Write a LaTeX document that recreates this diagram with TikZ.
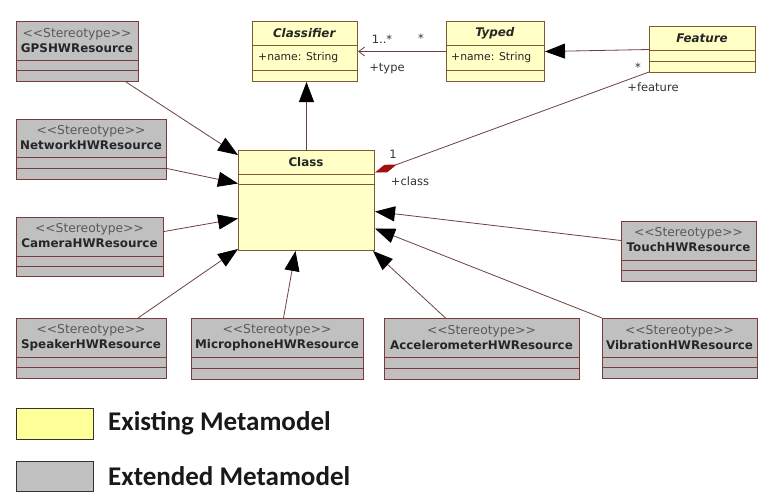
\documentclass[tikz,border=0pt]{standalone}
\usepackage{fontspec}
\setmainfont{DejaVu Sans}
\newfontfamily\legfont{Carlito}
\usetikzlibrary{arrows.meta,calc}
\definecolor{ylw}{HTML}{FFFFC6}
\definecolor{ylwborder}{HTML}{7D5A32}
\definecolor{gry}{HTML}{C0C0C0}
\definecolor{gryborder}{HTML}{7B3B3B}
\definecolor{conn}{HTML}{6E4040}
\definecolor{diam}{HTML}{A01010}
\definecolor{legyellow}{HTML}{FFFF99}
\newcommand\stereo{{\fontsize{12.3}{15}\selectfont\color{black!65}<\kern0pt<Stereotype>\kern0pt>}}
\tikzset{
  box/.style={draw, inner sep=0pt, anchor=north west, line width=1pt},
  ybox/.style={box, fill=ylw, draw=ylwborder},
  gbox/.style={box, fill=gry, draw=gryborder},
  yboxline/.style={draw=ylwborder, line width=1pt},
  gboxline/.style={draw=gryborder, line width=1pt},
  txt/.style={inner sep=0pt, align=center, font=\fontsize{11.9}{15}\selectfont, text=black!85},
  attr/.style={inner sep=0pt, anchor=west, font=\fontsize{10.8}{13}\selectfont, text=black!85},
  lbl/.style={inner sep=0pt, font=\fontsize{11.5}{12}\selectfont, text=black!80},
  gen/.style={draw=conn, line width=0.8pt, -{Triangle[length=20pt,width=15pt,color=black]}},
  assoc/.style={draw=conn, line width=0.8pt, -{Straight Barb[length=6pt,width=9pt]}},
  comp/.style={draw=conn, line width=0.8pt, {Diamond[length=23pt,width=8pt,color=diam]}-},
  legtxt/.style={inner sep=0pt, anchor=west, font=\legfont\bfseries\fontsize{27}{30}\selectfont, text=black!90}
}
\newcommand\umlbox[8]{%
  \node[#2, minimum width={#5pt-#3pt}, minimum height={#6pt-#4pt}] (#1) at (#3,#4) {};
  \draw[#2line] (#3,#7) -- (#5,#7) (#3,#8) -- (#5,#8);
}
\begin{document}
\begin{tikzpicture}[x=1pt,y=-1pt]
\path[use as bounding box, fill=white] (0,0) rectangle (767,499);

% existing metamodel
\umlbox{classifier}{ybox}{252}{21}{357}{81}{45}{70}
\node[txt] (classifierT) at (304.5,33) {\textbf{\textit{Classifier}}};
\node[attr] (classifierA) at (258,57.5) {+name: String};
\umlbox{typed}{ybox}{446}{21}{544}{81}{45}{70}
\node[txt] (typedT) at (495,33) {\textbf{\textit{Typed}}};
\node[attr] (typedA) at (451,57.5) {+name: String};
\umlbox{feature}{ybox}{649}{26}{755}{72}{50}{61}
\node[txt] (featureT) at (702,38) {\textbf{\textit{Feature}}};
\umlbox{class}{ybox}{238}{150}{374}{250}{174}{184}
\node[txt] (classT) at (306,162) {\textbf{Class}};

% extended metamodel
\umlbox{gps}{gbox}{16}{21}{138}{81}{60}{70}
\node[txt] (gpsT) at (77,40.5) {\stereo\\\textbf{GPSHWResource}};
\umlbox{net}{gbox}{16}{119}{166}{179}{157}{168}
\node[txt] (netT) at (91,138) {\stereo\\\textbf{NetworkHWResource}};
\umlbox{cam}{gbox}{16}{217}{163}{276}{256}{266}
\node[txt] (camT) at (89.5,236) {\stereo\\\textbf{CameraHWResource}};
\umlbox{spk}{gbox}{16}{318}{166}{378}{357}{367}
\node[txt] (spkT) at (91,337.5) {\stereo\\\textbf{SpeakerHWResource}};
\umlbox{mic}{gbox}{191}{318}{363}{379}{357}{368}
\node[txt] (micT) at (277,337.5) {\stereo\\\textbf{MicrophoneHWResource}};
\umlbox{acc}{gbox}{384}{318}{579}{379}{357}{368}
\node[txt] (accT) at (481.5,337.5) {\stereo\\\textbf{AccelerometerHWResource}};
\umlbox{vib}{gbox}{602}{318}{757}{378}{357}{367}
\node[txt] (vibT) at (679.5,337.5) {\stereo\\\textbf{VibrationHWResource}};
\umlbox{touch}{gbox}{621}{221}{756}{281}{260}{270}
\node[txt] (touchT) at (688.5,240) {\stereo\\\textbf{TouchHWResource}};

% connectors
\draw[gen] (class.north) -- (class.north |- classifier.south);
\draw[assoc] (typed.west) -- (classifier.east);
\draw[gen] (feature.west) -- (typed.east);
\draw[comp] ([yshift=28pt]class.east) -- ([yshift=1pt]feature.south west);

\draw[gen] ([xshift=-13pt]gps.south east) -- ([yshift=-5pt]class.north west);
\draw[gen] ([yshift=-19pt]net.east) -- ([yshift=17pt]class.west);
\draw[gen] ([yshift=15.5pt]cam.east) -- ([yshift=-18pt]class.west);
\draw[gen] ([xshift=-29pt]spk.north east) -- ([yshift=2pt]class.south west);
\draw[gen] ([xshift=6pt]mic.north) -- ([xshift=-11pt]class.south);
\draw[gen] ([xshift=-36.5pt]acc.north) -- ([xshift=-2pt]class.south east);
\draw[gen] (vib.north west) -- ([yshift=-28pt]class.east);
\draw[gen] ([yshift=11pt]touch.west) -- ([yshift=-11pt]class.east);

% labels
\node[lbl] (l1) at (382,39) {1..*};
\node[lbl] (l2) at (421,38) {*};
\node[lbl] (l3) at (387,69) {+type};
\node[lbl] (l4) at (638,67) {*};
\node[lbl] (l5) at (653,87) {+feature};
\node[lbl] (l6) at (393,154) {1};
\node[lbl] (l7) at (410,181) {+class};

% legend
\node[box, fill=legyellow, draw=black!80, minimum width=77pt, minimum height=31pt] (legY) at (16,408) {};
\node[legtxt] (legYT) at (108,423) {Existing Metamodel};
\node[box, fill=gry, draw=black!80, minimum width=77pt, minimum height=30pt] (legG) at (16,461) {};
\node[legtxt] (legGT) at (108,476.5) {Extended Metamodel};
\end{tikzpicture}
\end{document}
